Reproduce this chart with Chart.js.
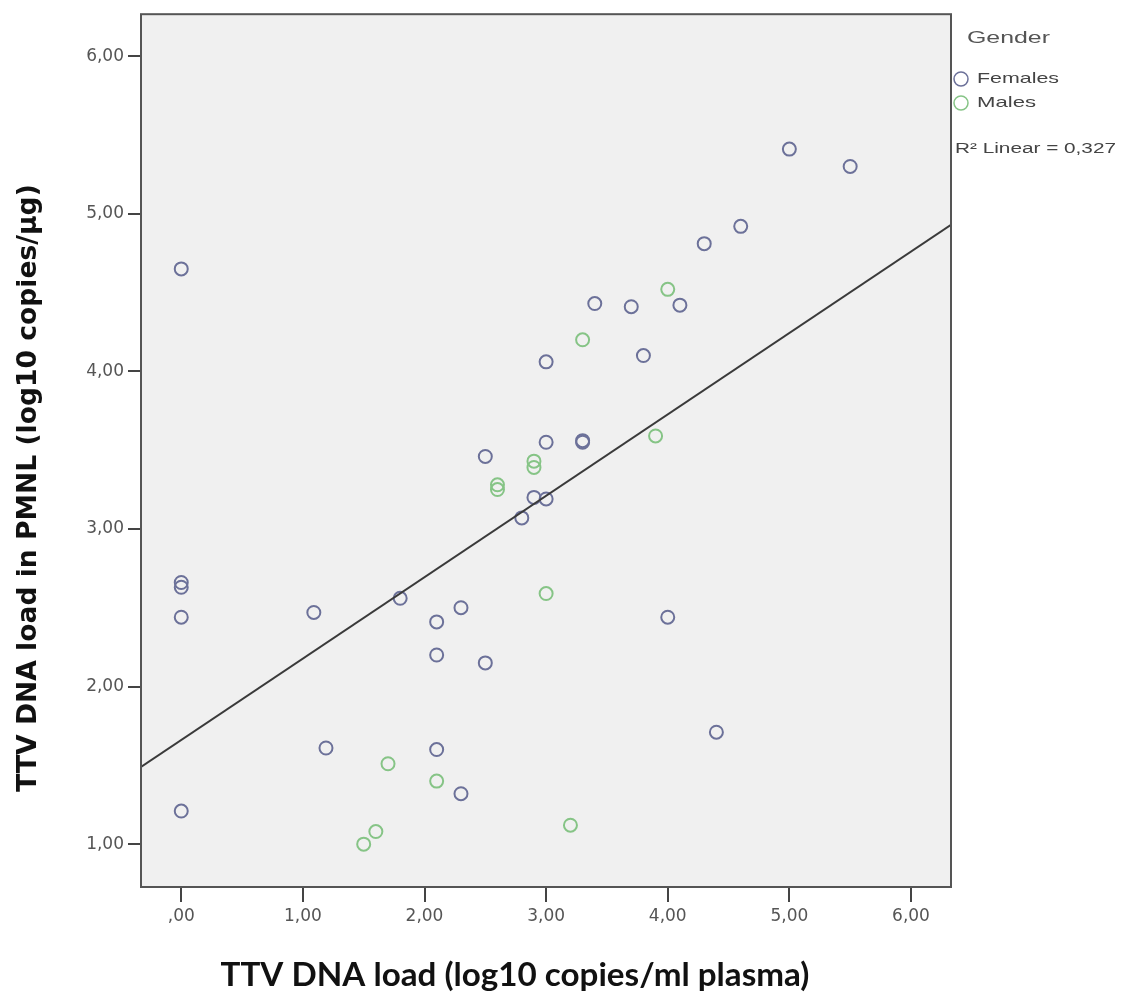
<!DOCTYPE html>
<html lang="en">

<head>
    <meta charset="UTF-8">
    <title>TTV DNA load</title>
    <style>
        body { margin: 0; background: #fff; }
    </style>
</head>

<body>
    <canvas id="myChart" width="1127" height="996"></canvas>

    <script src="https://cdn.jsdelivr.net/npm/chart.js@4.4.1/dist/chart.umd.min.js"></script>
    <script>
        // TTV DNA load in plasma (x) vs in PMNL (y), log10 scale values
        const femalesX = [0.00, 0.00, 0.00, 0.00, 0.00, 1.09, 1.19, 1.80, 2.10, 2.10, 2.10, 2.30, 2.30, 2.50, 2.50, 2.80,
            2.90, 3.00, 3.00, 3.00, 3.30, 3.30, 3.40, 3.70, 3.80, 4.10, 4.00, 4.40, 4.30, 4.60, 5.00, 5.50];
        const femalesY = [4.65, 2.66, 2.63, 2.44, 1.21, 2.47, 1.61, 2.56, 2.41, 2.20, 1.60, 2.50, 1.32, 2.15, 3.46, 3.07,
            3.20, 3.19, 3.55, 4.06, 3.56, 3.55, 4.43, 4.41, 4.10, 4.42, 2.44, 1.71, 4.81, 4.92, 5.41, 5.30];

        const malesX = [4.00, 3.30, 3.90, 2.90, 2.90, 2.60, 2.60, 3.00, 1.70, 2.10, 1.60, 1.50, 3.20];
        const malesY = [4.52, 4.20, 3.59, 3.43, 3.39, 3.28, 3.25, 2.59, 1.51, 1.40, 1.08, 1.00, 1.12];

        // linear fit line, ends at the plot edges
        const fitX = [-0.331, 6.329];
        const fitY = [1.49, 4.93];
        const rSquared = '0,327';

        const xTickValues = [0, 1, 2, 3, 4, 5, 6];
        const xTickLabels = [',00', '1,00', '2,00', '3,00', '4,00', '5,00', '6,00'];
        const yTickValues = [1, 2, 3, 4, 5, 6];
        const yTickLabels = ['1,00', '2,00', '3,00', '4,00', '5,00', '6,00'];

        const xTitle = 'TTV DNA load (log10 copies/ml plasma)';
        const yTitle = 'TTV DNA load in PMNL (log10 copies/µg)';

        const blue = '#6c7199';
        const green = '#86c486';

        function toPoints(xs, ys) {
            return xs.map((x, i) => ({ x: x, y: ys[i] }));
        }

        function fitFont(ctx, text, weight, family, width) {
            ctx.font = weight + ' 20px ' + family;
            var size = 20 * width / ctx.measureText(text).width;
            return weight + ' ' + size.toFixed(1) + 'px ' + family;
        }

        // legend text in the picture is drawn wide, so stretch it sideways
        function wideText(ctx, text, x, y, font, width) {
            ctx.save();
            ctx.font = font;
            var sx = width / ctx.measureText(text).width;
            ctx.translate(x, y);
            ctx.scale(sx, 1);
            ctx.fillText(text, 0, 0);
            ctx.restore();
        }

        const frame = {
            id: 'frame',
            beforeDatasetsDraw(chart) {
                const { ctx, chartArea: a } = chart;
                ctx.save();
                ctx.fillStyle = '#f0f0f0';
                ctx.fillRect(a.left, a.top, a.right - a.left, a.bottom - a.top);
                ctx.restore();
            },
            afterDraw(chart) {
                const { ctx, chartArea: a } = chart;
                ctx.save();
                ctx.strokeStyle = '#555';
                ctx.lineWidth = 2;
                ctx.strokeRect(a.left, a.top, a.right - a.left, a.bottom - a.top);

                // axis titles
                ctx.fillStyle = '#111';
                ctx.textAlign = 'center';
                ctx.textBaseline = 'middle';
                ctx.font = fitFont(ctx, xTitle, 'bold', 'Lato', 590);
                ctx.fillText(xTitle, 515, 975);
                ctx.translate(29, 488);
                ctx.rotate(-Math.PI / 2);
                ctx.font = fitFont(ctx, yTitle, 'bold', '"DejaVu Sans"', 607);
                ctx.fillText(yTitle, 0, 0);
                ctx.restore();

                // legend
                ctx.save();
                ctx.textAlign = 'left';
                ctx.textBaseline = 'middle';
                ctx.fillStyle = '#555';
                wideText(ctx, 'Gender', 967, 38, '17px "Liberation Sans"', 83);
                [['Females', blue, 79, 82], ['Males', green, 103, 59]].forEach(item => {
                    ctx.strokeStyle = item[1];
                    ctx.lineWidth = 1.5;
                    ctx.beginPath();
                    ctx.arc(961, item[2], 7, 0, Math.PI * 2);
                    ctx.stroke();
                    ctx.fillStyle = '#444';
                    wideText(ctx, item[0], 977, item[2], '15px "Liberation Sans"', item[3]);
                });
                wideText(ctx, 'R² Linear = ' + rSquared, 955, 149, '14px "Liberation Sans"', 161);
                ctx.restore();
            }
        };

        var ctx = document.getElementById('myChart');
        var config = {
            type: 'scatter',
            data: {
                datasets: [
                    {
                        type: 'line',
                        label: 'R2 Linear',
                        data: toPoints(fitX, fitY),
                        borderColor: '#3a3a3a',
                        borderWidth: 2,
                        pointRadius: 0,
                        fill: false
                    },
                    {
                        label: 'Females',
                        data: toPoints(femalesX, femalesY),
                        borderColor: blue,
                        backgroundColor: 'transparent',
                        borderWidth: 2,
                        pointRadius: 6.5
                    },
                    {
                        label: 'Males',
                        data: toPoints(malesX, malesY),
                        borderColor: green,
                        backgroundColor: 'transparent',
                        borderWidth: 2,
                        pointRadius: 6.5
                    }
                ]
            },
            options: {
                responsive: false,
                animation: false,
                events: [],
                layout: { padding: { top: 12, right: 176, left: 0, bottom: 0 } },
                plugins: {
                    legend: { display: false },
                    tooltip: { enabled: false }
                },
                scales: {
                    x: {
                        type: 'linear',
                        min: -0.331,
                        max: 6.329,
                        afterBuildTicks: s => { s.ticks = xTickValues.map(v => ({ value: v })); },
                        afterFit: s => { s.height = 109; },
                        ticks: {
                            callback: (v, i) => xTickLabels[i],
                            color: '#555',
                            font: { family: 'DejaVu Sans', size: 17 },
                            padding: 4,
                            maxRotation: 0
                        },
                        grid: { drawOnChartArea: false, tickLength: 15, color: '#444', lineWidth: 2 },
                        border: { display: false }
                    },
                    y: {
                        type: 'linear',
                        min: 0.728,
                        max: 6.266,
                        afterBuildTicks: s => { s.ticks = yTickValues.map(v => ({ value: v })); },
                        afterFit: s => { s.width = 141; },
                        ticks: {
                            callback: (v, i) => yTickLabels[i],
                            color: '#555',
                            font: { family: 'DejaVu Sans', size: 17 },
                            padding: 4
                        },
                        grid: { drawOnChartArea: false, tickLength: 13, color: '#444', lineWidth: 2 },
                        border: { display: false }
                    }
                }
            },
            plugins: [frame]
        };
        var chart = new Chart(ctx, config);
    </script>

</body>

</html>
